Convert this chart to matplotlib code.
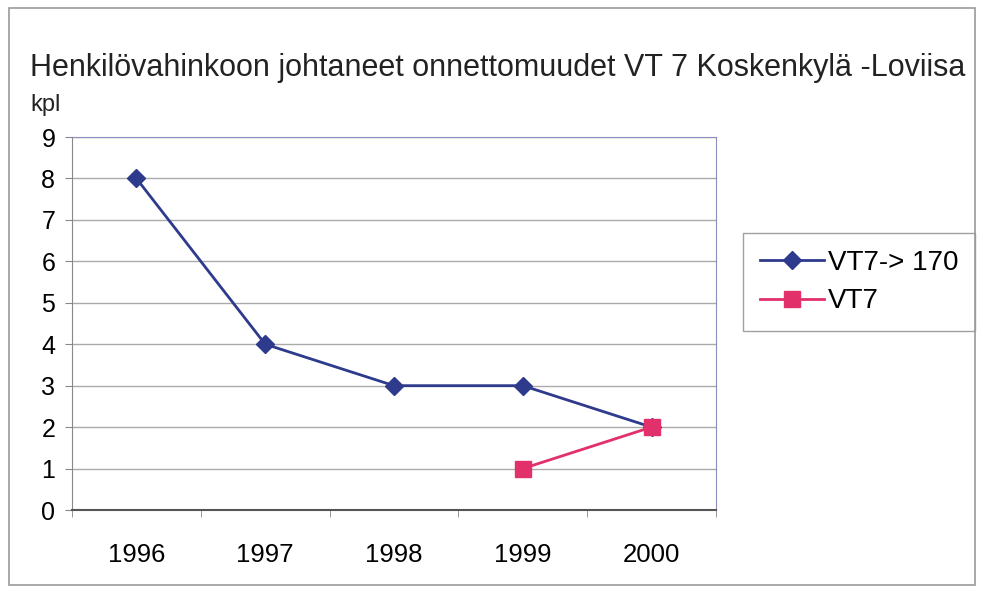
import matplotlib.pyplot as plt
from matplotlib.patches import Rectangle

plt.rcParams['font.family'] = ['Liberation Sans', 'DejaVu Sans']

years = ['1996', '1997', '1998', '1999', '2000']
vt7_170 = [8, 4, 3, 3, 2]
vt7_years = ['1999', '2000']
vt7 = [1, 2]

blue = '#2e3a8c'
red = '#e2306a'

fig = plt.figure(figsize=(9.83, 5.92), dpi=100)
# outer chart frame
fig.patches.append(Rectangle((0.009, 0.012), 0.983, 0.975, transform=fig.transFigure,
                             fill=False, edgecolor='#9a9a9a', linewidth=1.2))

ax = fig.add_axes([72 / 983, 1 - 510 / 592, (716 - 72) / 983, (510 - 137) / 592])
pos = {y: i for i, y in enumerate(years)}
ax.plot([pos[y] for y in years], vt7_170, color=blue, linewidth=2,
        marker='D', markersize=9, label='VT7-> 170')
ax.plot([pos[y] for y in vt7_years], vt7, color=red, linewidth=2,
        marker='s', markersize=12, label='VT7')

ax.set_xlim(-0.5, len(years) - 0.5)
ax.set_ylim(0, 9)
ax.set_yticks(range(0, 10))
ax.set_xticks(range(len(years)))
ax.set_xticklabels(years)
ax.set_xticks([i - 0.5 for i in range(len(years) + 1)], minor=True)
ax.tick_params(axis='x', which='major', length=0, pad=24, labelsize=18.5)
ax.tick_params(axis='x', which='minor', length=5, color='#888888')
ax.tick_params(axis='y', length=5, color='#888888', labelsize=18, pad=7)
ax.grid(axis='y', color='#aaaaaa', linewidth=1)
ax.set_axisbelow(True)
for side in ['top', 'right']:
    ax.spines[side].set_color('#8a8fc0')
ax.spines['left'].set_color('#888888')
ax.spines['bottom'].set_color('#555555')
ax.spines['bottom'].set_linewidth(1.5)

fig.text(30 / 983, 1 - 68 / 592, 'Henkilövahinkoon johtaneet onnettomuudet VT 7 Koskenkylä -Loviisa',
         fontsize=22, va='center', ha='left', color='#222222')
fig.text(30 / 983, 1 - 105 / 592, 'kpl', fontsize=17, va='center', ha='left', color='#222222')

leg = ax.legend(loc='center left', bbox_to_anchor=(743 / 983, 1 - 282 / 592),
                bbox_transform=fig.transFigure, fontsize=20, frameon=True, fancybox=False,
                edgecolor='#888888', handlelength=2.3, borderpad=0.6, labelspacing=0.45,
                handletextpad=0.15, borderaxespad=0)
leg.get_frame().set_linewidth(1)

fig.savefig('out.png', dpi=100)
